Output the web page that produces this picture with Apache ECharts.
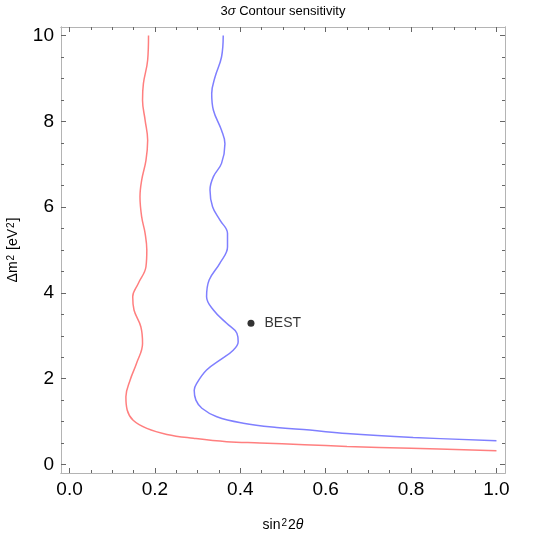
<!DOCTYPE html>
<html>
<head>
<meta charset="utf-8">
<script src="https://cdn.jsdelivr.net/npm/echarts@6/dist/echarts.min.js"></script>
<style>
  html, body { margin: 0; padding: 0; background: #fff; }
  #chart { width: 536px; height: 537px; }
</style>
</head>
<body>
<div id="chart"></div>
<script>
  // tick values (major with labels, minor without)
  var xTicks = [0, 0.2, 0.4, 0.6, 0.8, 1.0];
  var xMinor = [0.05, 0.1, 0.15, 0.25, 0.3, 0.35, 0.45, 0.5, 0.55, 0.65, 0.7, 0.75, 0.85, 0.9, 0.95];
  var yTicks = [0, 2, 4, 6, 8, 10];
  var yMinor = [0.5, 1, 1.5, 2.5, 3, 3.5, 4.5, 5, 5.5, 6.5, 7, 7.5, 8.5, 9, 9.5];

  // contour points [sin^2 2theta, dm^2]
  var redCurve = [
    [0.185, 10.0], [0.183, 9.43], [0.173, 8.88], [0.171, 8.49], [0.177, 8.03],
    [0.183, 7.56], [0.179, 7.09], [0.169, 6.63], [0.165, 6.24], [0.169, 5.77],
    [0.177, 5.39], [0.181, 5.00], [0.179, 4.61], [0.161, 4.22], [0.148, 3.91],
    [0.151, 3.60], [0.167, 3.21], [0.171, 2.82], [0.157, 2.36], [0.142, 1.97],
    [0.132, 1.58], [0.135, 1.27], [0.149, 1.03], [0.181, 0.84], [0.228, 0.70],
    [0.290, 0.61], [0.368, 0.53], [0.446, 0.50], [0.55, 0.46], [0.65, 0.42],
    [0.80, 0.375], [1.0, 0.32]
  ];
  var blueCurve = [
    [0.360, 10.0], [0.356, 9.50], [0.341, 9.04], [0.333, 8.65], [0.337, 8.26],
    [0.356, 7.79], [0.364, 7.48], [0.356, 7.02], [0.337, 6.71], [0.329, 6.40],
    [0.335, 6.01], [0.352, 5.70], [0.370, 5.39], [0.370, 5.07], [0.352, 4.69],
    [0.327, 4.30], [0.321, 3.91], [0.337, 3.60], [0.368, 3.29], [0.392, 3.06],
    [0.395, 2.86], [0.384, 2.67], [0.352, 2.43], [0.321, 2.20], [0.298, 1.89],
    [0.292, 1.73], [0.296, 1.50], [0.310, 1.31], [0.345, 1.11], [0.407, 0.96],
    [0.485, 0.86], [0.563, 0.80], [0.649, 0.72], [0.805, 0.63], [1.0, 0.55]
  ];
  var bestPoint = [[0.425, 3.29]];

  var FONT = 'Liberation Sans';
  var frameColor = '#b4b4b4';
  var tickColor = '#666';

  function xAx(pos, ticks, len, labels) {
    return {
      type: 'value', min: -0.02, max: 1.02, position: pos,
      axisLine: { show: true, onZero: false, lineStyle: { color: frameColor, width: 1 } },
      axisTick: { show: true, inside: true, length: len, customValues: ticks,
        lineStyle: { color: tickColor, width: 1 } },
      axisLabel: labels ? {
        show: true, customValues: ticks, margin: 7, color: '#000',
        fontFamily: FONT, fontSize: 19,
        formatter: function (v) { return v.toFixed(1); }
      } : { show: false },
      splitLine: { show: false }
    };
  }
  function yAx(pos, ticks, len, labels) {
    return {
      type: 'value', min: -0.2, max: 10.2, position: pos,
      axisLine: { show: true, onZero: false, lineStyle: { color: frameColor, width: 1 } },
      axisTick: { show: true, inside: true, length: len, customValues: ticks,
        lineStyle: { color: tickColor, width: 1 } },
      axisLabel: labels ? {
        show: true, customValues: ticks, margin: 7, color: '#000',
        fontFamily: FONT, fontSize: 19
      } : { show: false },
      splitLine: { show: false }
    };
  }

  // rich styles: n = normal, s = superscript, i = italic
  var nameRich = {
    n: { fontSize: 14, fontFamily: FONT, lineHeight: 14, verticalAlign: 'bottom', color: '#000' },
    s: { fontSize: 10, fontFamily: FONT, lineHeight: 10, verticalAlign: 'top', padding: [0, 1, 6, 1], color: '#000' },
    i: { fontSize: 14, fontFamily: FONT, lineHeight: 14, verticalAlign: 'bottom', fontStyle: 'italic', color: '#000' }
  };

  var xMain = xAx('bottom', xTicks, 5, true);
  xMain.name = '{n|sin}{s|2}{n|2}{i|θ}';
  xMain.nameLocation = 'middle';
  xMain.nameGap = 45;
  xMain.nameTextStyle = { color: '#000', fontFamily: FONT, fontSize: 14, rich: nameRich };

  var yMain = yAx('left', yTicks, 5, true);
  yMain.name = '{n|Δm}{s|2}{n| [eV}{s|2}{n|]}';
  yMain.nameLocation = 'middle';
  yMain.nameGap = 36;
  yMain.nameTextStyle = { color: '#000', fontFamily: FONT, fontSize: 14, rich: nameRich };

  var chart = echarts.init(document.getElementById('chart'), null, { renderer: 'canvas' });
  chart.setOption({
    animation: false,
    backgroundColor: '#fff',
    title: {
      text: '3{i|σ} Contour sensitivity',
      left: 278, top: 0, textAlign: 'center',
      textStyle: {
        color: '#000', fontFamily: FONT, fontSize: 13, fontWeight: 'normal',
        rich: { i: { fontStyle: 'italic', fontFamily: FONT, fontSize: 13, color: '#000' } }
      }
    },
    grid: { left: 61, right: 31, top: 27, bottom: 64, containLabel: false, outerBoundsMode: 'none' },
    xAxis: [
      xMain,
      xAx('bottom', xMinor, 3, false),
      xAx('top', xTicks, 5, false),
      xAx('top', xMinor, 3, false)
    ],
    yAxis: [
      yMain,
      yAx('left', yMinor, 3, false),
      yAx('right', yTicks, 5, false),
      yAx('right', yMinor, 3, false)
    ],
    series: [
      {
        type: 'line', data: redCurve, smooth: 0.4, showSymbol: false,
        lineStyle: { color: '#ff7f7f', width: 1.5 }
      },
      {
        type: 'line', data: blueCurve, smooth: 0.4, showSymbol: false,
        lineStyle: { color: '#7f7fff', width: 1.5 }
      },
      {
        type: 'scatter', data: bestPoint, symbolSize: 7,
        itemStyle: { color: '#000' },
        label: {
          show: true, position: 'right', distance: 10, formatter: 'BEST',
          color: '#000', fontFamily: FONT, fontSize: 14
        }
      }
    ]
  });
</script>
</body>
</html>
